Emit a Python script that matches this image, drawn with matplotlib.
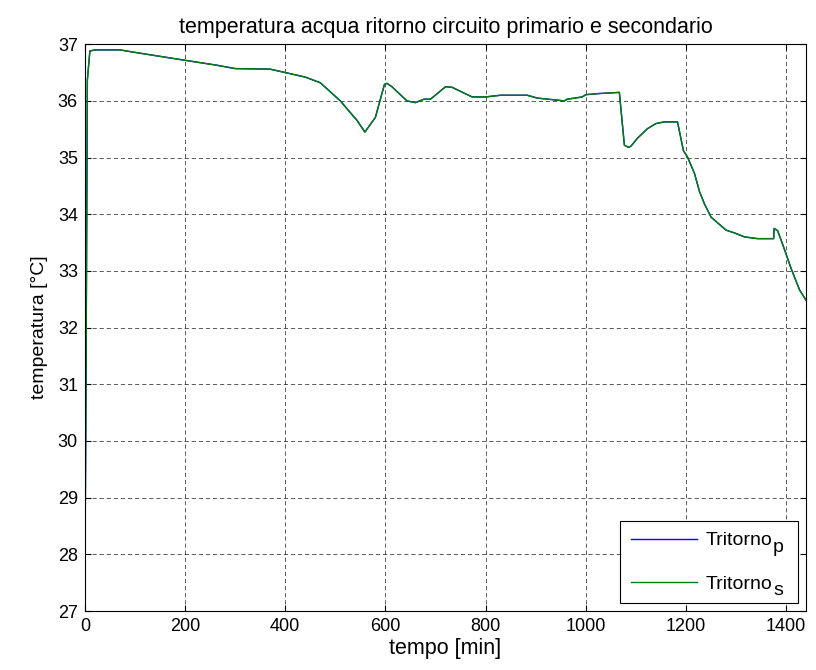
import matplotlib
matplotlib.use('Agg')
import matplotlib.pyplot as plt
from matplotlib.offsetbox import DrawingArea
from matplotlib.text import Text

# readings: time [min] and return temperature [C]
t_min = [0, 2, 5, 10, 20, 70, 90, 190, 263, 300, 370, 400, 440, 470, 490, 510,
         537, 543, 559, 580, 598, 603, 613, 643, 660, 677, 690, 720, 733, 773,
         800, 830, 883, 903, 957, 963, 993, 1000, 1027, 1067, 1077, 1085, 1090,
         1103, 1123, 1140, 1157, 1183, 1195, 1203, 1217, 1227, 1237, 1250, 1263,
         1280, 1297, 1317, 1343, 1375, 1376, 1383, 1397, 1410, 1427, 1440]
temp_p = [27.42, 30.5, 36.37, 36.88, 36.9, 36.9, 36.87, 36.73, 36.63, 36.57,
          36.56, 36.5, 36.42, 36.32, 36.16, 36.0, 35.72, 35.66, 35.45, 35.71,
          36.29, 36.31, 36.25, 36.0, 35.97, 36.03, 36.03, 36.25, 36.24, 36.07,
          36.07, 36.1, 36.1, 36.05, 36.0, 36.03, 36.07, 36.11, 36.13, 36.15,
          35.22, 35.18, 35.2, 35.34, 35.51, 35.6, 35.63, 35.63, 35.12, 35.01,
          34.72, 34.4, 34.18, 33.95, 33.85, 33.72, 33.67, 33.6, 33.57, 33.57,
          33.75, 33.71, 33.37, 33.04, 32.66, 32.48]
temp_s = list(temp_p)

series_names = ['Tritorno', 'Tritorno']
subscripts = ['p', 's']

plt.rcParams['font.family'] = ['Liberation Sans', 'DejaVu Sans']

fig = plt.figure(figsize=(8.16, 6.7), dpi=100)
ax = fig.add_axes([0.104, 0.088, 0.884, 0.846])

ax.plot(t_min, temp_p, color='#0000ff', lw=1.0, label=series_names[0])
ax.plot(t_min, temp_s, color='#008000', lw=1.0, label=series_names[1])

ax.set_xlim(0, 1440)
ax.set_ylim(27, 37)
ax.set_xticks(range(0, 1401, 200))
ax.set_yticks(range(27, 38))
ax.grid(True, color='k', linestyle=(0, (5, 3.5)), linewidth=0.6, alpha=0.75)
ax.tick_params(direction='in', top=True, right=True, labelsize=13, length=4, pad=5)

ax.set_title('temperatura acqua ritorno circuito primario e secondario',
             fontsize=15.5, pad=8)
ax.set_xlabel('tempo [min]', fontsize=15.5, labelpad=2)
ax.set_ylabel('temperatura [\u00b0C]', fontsize=14, labelpad=7)

fs_leg = 14
text_pad = 0.45
leg = ax.legend(loc='lower right', fontsize=fs_leg, fancybox=False, framealpha=1,
                edgecolor='k', borderaxespad=0.4, handlelength=3.4,
                handletextpad=text_pad, labelspacing=1.3, borderpad=0.55)
leg.get_frame().set_linewidth(0.8)

# MATLAB-style full-size subscripts appended to each legend row
sep = text_pad * fs_leg
rows = leg._legend_handle_box.get_children()[0].get_children()
for row, sub in zip(rows, subscripts):
    da = DrawingArea(11 - sep, 10, 0, 0)
    sub_txt = Text(0.5 - sep, -4.5, sub, fontsize=fs_leg, va='baseline', ha='left',
                   fontfamily=['Liberation Sans', 'DejaVu Sans'])
    sub_txt.set_figure(fig)
    da.add_artist(sub_txt)
    da.set_figure(fig)
    row.get_children().append(da)

fig.savefig('out.png', dpi=100)
